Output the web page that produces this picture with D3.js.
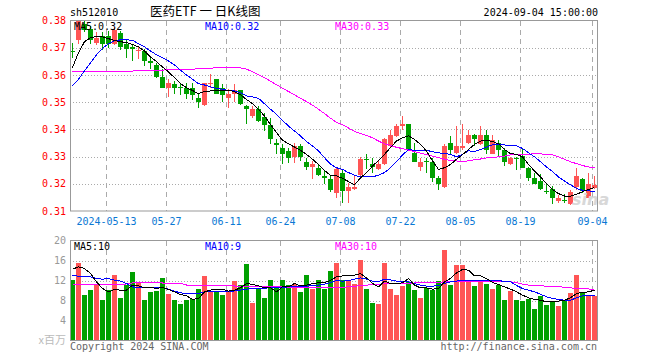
<!DOCTYPE html>
<html>
<head>
<meta charset="utf-8">
<script src="https://cdn.jsdelivr.net/npm/d3@7"></script>
<style>
  body { margin: 0; background: #fff; }
  svg { display: block; }
  text { font-family: "DejaVu Sans Mono", monospace; font-size: 10px; }
</style>
</head>
<body>
<div id="chart"></div>
<script>
// trading days shown on the chart
var dates = ["2024-04-30",
  "2024-05-06","2024-05-07","2024-05-08","2024-05-09","2024-05-10",
  "2024-05-13","2024-05-14","2024-05-15","2024-05-16","2024-05-17",
  "2024-05-20","2024-05-21","2024-05-22","2024-05-23","2024-05-24",
  "2024-05-27","2024-05-28","2024-05-29","2024-05-30","2024-05-31",
  "2024-06-03","2024-06-04","2024-06-05","2024-06-06","2024-06-07",
  "2024-06-11","2024-06-12","2024-06-13","2024-06-14",
  "2024-06-17","2024-06-18","2024-06-19","2024-06-20","2024-06-21",
  "2024-06-24","2024-06-25","2024-06-26","2024-06-27","2024-06-28",
  "2024-07-01","2024-07-02","2024-07-03","2024-07-04","2024-07-05",
  "2024-07-08","2024-07-09","2024-07-10","2024-07-11","2024-07-12",
  "2024-07-15","2024-07-16","2024-07-17","2024-07-18","2024-07-19",
  "2024-07-22","2024-07-23","2024-07-24","2024-07-25","2024-07-26",
  "2024-07-29","2024-07-30","2024-07-31","2024-08-01","2024-08-02",
  "2024-08-05","2024-08-06","2024-08-07","2024-08-08","2024-08-09",
  "2024-08-12","2024-08-13","2024-08-14","2024-08-15","2024-08-16",
  "2024-08-19","2024-08-20","2024-08-21","2024-08-22","2024-08-23",
  "2024-08-26","2024-08-27","2024-08-28","2024-08-29","2024-08-30",
  "2024-09-02","2024-09-03","2024-09-04"];

var open = [0.3687,0.3729,0.3786,0.3769,0.3717,0.3743,0.3743,0.3715,0.3755,0.3715,
  0.3702,0.3690,0.3688,0.3653,0.3636,0.3593,0.3553,0.3565,0.3554,0.3553,
  0.3553,0.3514,0.3489,0.3567,0.3584,0.3553,0.3514,0.3531,0.3543,0.3486,
  0.3449,0.3473,0.3446,0.3416,0.3351,0.3333,0.3320,0.3300,0.3339,0.3281,
  0.3263,0.3259,0.3229,0.3219,0.3167,0.3241,0.3174,0.3180,0.3232,0.3291,
  0.3271,0.3253,0.3271,0.3339,0.3376,0.3412,0.3420,0.3314,0.3262,0.3282,
  0.3281,0.3220,0.3188,0.3351,0.3314,0.3332,0.3351,0.3381,0.3345,0.3381,
  0.3311,0.3351,0.3324,0.3271,0.3294,0.3302,0.3259,0.3220,0.3210,0.3172,
  0.3180,0.3136,0.3140,0.3127,0.3188,0.3219,0.3149,0.3186];
var high = [0.3716,0.3800,0.3800,0.3778,0.3756,0.3756,0.3760,0.3776,0.3760,0.3727,
  0.3715,0.3703,0.3695,0.3666,0.3645,0.3623,0.3584,0.3578,0.3572,0.3572,
  0.3572,0.3529,0.3572,0.3605,0.3586,0.3566,0.3547,0.3566,0.3545,0.3489,
  0.3486,0.3486,0.3461,0.3443,0.3363,0.3347,0.3333,0.3351,0.3345,0.3296,
  0.3284,0.3271,0.3247,0.3229,0.3259,0.3253,0.3204,0.3229,0.3299,0.3311,
  0.3293,0.3286,0.3367,0.3398,0.3421,0.3449,0.3421,0.3351,0.3296,0.3296,
  0.3293,0.3229,0.3345,0.3376,0.3413,0.3420,0.3399,0.3383,0.3412,0.3399,
  0.3381,0.3360,0.3333,0.3299,0.3299,0.3326,0.3261,0.3241,0.3235,0.3200,
  0.3192,0.3157,0.3161,0.3176,0.3259,0.3222,0.3241,0.3229];
var low = [0.3662,0.3713,0.3756,0.3713,0.3710,0.3690,0.3700,0.3710,0.3690,0.3664,
  0.3651,0.3657,0.3633,0.3620,0.3588,0.3551,0.3520,0.3529,0.3527,0.3510,
  0.3509,0.3480,0.3486,0.3553,0.3529,0.3499,0.3480,0.3499,0.3489,0.3419,
  0.3443,0.3428,0.3394,0.3347,0.3308,0.3271,0.3278,0.3278,0.3284,0.3249,
  0.3216,0.3229,0.3200,0.3171,0.3149,0.3131,0.3128,0.3176,0.3230,0.3256,
  0.3238,0.3250,0.3268,0.3335,0.3372,0.3399,0.3322,0.3280,0.3247,0.3238,
  0.3207,0.3176,0.3183,0.3307,0.3310,0.3325,0.3348,0.3339,0.3343,0.3308,
  0.3308,0.3299,0.3266,0.3269,0.3249,0.3257,0.3212,0.3198,0.3178,0.3161,
  0.3127,0.3131,0.3131,0.3123,0.3178,0.3167,0.3149,0.3180];
var close = [0.3685,0.3798,0.3764,0.3727,0.3736,0.3715,0.3715,0.3764,0.3702,0.3694,
  0.3694,0.3693,0.3653,0.3645,0.3593,0.3553,0.3572,0.3553,0.3553,0.3531,
  0.3526,0.3502,0.3571,0.3570,0.3531,0.3526,0.3531,0.3543,0.3492,0.3476,
  0.3473,0.3430,0.3416,0.3363,0.3342,0.3311,0.3293,0.3339,0.3299,0.3262,
  0.3271,0.3232,0.3220,0.3176,0.3253,0.3174,0.3188,0.3188,0.3292,0.3290,
  0.3262,0.3271,0.3363,0.3381,0.3414,0.3418,0.3326,0.3281,0.3281,0.3281,
  0.3220,0.3200,0.3339,0.3324,0.3339,0.3339,0.3381,0.3363,0.3381,0.3323,
  0.3360,0.3324,0.3281,0.3293,0.3293,0.3259,0.3220,0.3200,0.3180,0.3171,
  0.3149,0.3149,0.3139,0.3171,0.3229,0.3174,0.3200,0.3196];

var ma5 = [0.3627,0.3682,0.3722,0.3737,0.3741,0.3740,0.3733,0.3727,0.3722,0.3719,
  0.3712,0.3703,0.3688,0.3666,0.3649,0.3629,0.3611,0.3590,0.3568,0.3553,
  0.3543,0.3531,0.3540,0.3541,0.3543,0.3543,0.3543,0.3539,0.3527,0.3510,
  0.3494,0.3474,0.3449,0.3418,0.3388,0.3360,0.3347,0.3335,0.3323,0.3308,
  0.3290,0.3271,0.3249,0.3231,0.3229,0.3220,0.3208,0.3196,0.3222,0.3241,
  0.3265,0.3286,0.3308,0.3333,0.3357,0.3369,0.3376,0.3363,0.3345,0.3320,
  0.3284,0.3253,0.3259,0.3271,0.3290,0.3307,0.3326,0.3345,0.3357,0.3360,
  0.3355,0.3347,0.3326,0.3311,0.3308,0.3299,0.3271,0.3247,0.3225,0.3200,
  0.3179,0.3164,0.3155,0.3155,0.3161,0.3171,0.3179,0.3186];
var ma10 = [0.3560,0.3584,0.3615,0.3645,0.3674,0.3698,0.3715,0.3725,0.3729,0.3729,
  0.3727,0.3715,0.3703,0.3688,0.3674,0.3664,0.3651,0.3637,0.3617,0.3600,
  0.3584,0.3568,0.3563,0.3556,0.3551,0.3547,0.3543,0.3541,0.3535,0.3523,
  0.3519,0.3514,0.3494,0.3474,0.3455,0.3433,0.3412,0.3394,0.3376,0.3355,
  0.3339,0.3321,0.3296,0.3272,0.3259,0.3253,0.3241,0.3232,0.3225,0.3225,
  0.3225,0.3232,0.3241,0.3259,0.3281,0.3306,0.3326,0.3323,0.3323,0.3323,
  0.3318,0.3314,0.3311,0.3308,0.3299,0.3308,0.3321,0.3318,0.3326,0.3335,
  0.3343,0.3345,0.3343,0.3339,0.3339,0.3330,0.3314,0.3299,0.3281,0.3262,
  0.3245,0.3225,0.3210,0.3196,0.3183,0.3176,0.3174,0.3171];
var ma30 = [0.3612,0.3611,0.3611,0.3611,0.3611,0.3611,0.3612,0.3614,0.3614,0.3614,
  0.3614,0.3617,0.3617,0.3617,0.3617,0.3617,0.3621,0.3621,0.3621,0.3621,
  0.3621,0.3623,0.3623,0.3625,0.3626,0.3629,0.3629,0.3629,0.3626,0.3621,
  0.3612,0.3601,0.3590,0.3577,0.3564,0.3551,0.3539,0.3527,0.3514,0.3502,
  0.3489,0.3474,0.3458,0.3441,0.3426,0.3417,0.3405,0.3393,0.3384,0.3378,
  0.3369,0.3357,0.3347,0.3341,0.3334,0.3329,0.3324,0.3318,0.3313,0.3307,
  0.3302,0.3296,0.3290,0.3285,0.3284,0.3281,0.3285,0.3288,0.3291,0.3295,
  0.3296,0.3299,0.3302,0.3306,0.3306,0.3306,0.3308,0.3311,0.3310,0.3308,
  0.3306,0.3299,0.3290,0.3281,0.3274,0.3267,0.3262,0.3259];

// volume in millions
var volume = [12.07,15.5,9.07,10.07,11.07,8.2,10.1,13.07,8.6,11.07,
  13.67,11.73,8.2,9.73,9.93,12.6,9.27,8.2,7.27,8.2,
  8.4,10.4,12.87,9.73,9.73,9.07,9.73,11.87,11.2,15.27,
  7.53,10.4,8.6,12.07,10.73,12.2,11.07,11.4,9.73,13.07,
  10.4,12.2,10.4,13.87,15.6,12.07,12.07,11.4,16.07,10.4,
  7.6,7.4,15.6,10.4,9.07,10.93,11.73,10.07,8.53,10.53,
  10.07,11.87,18.2,11.07,15.07,15.07,11.87,10.87,11.87,11.4,
  10.4,11.07,8.07,9.93,8.07,7.87,8.4,6.27,8.93,7.2,
  8.0,7.0,8.0,9.6,13.07,9.6,9.2,8.93];
var volMa5 = [14.27,14.73,14.4,13.4,11.73,10.4,9.73,10.2,10.07,10.07,
  11.07,10.93,10.53,10.6,10.4,10.6,10.2,9.73,9.2,8.93,
  8.2,8.4,9.73,10.07,10.27,10.27,9.87,10.07,10.53,11.4,
  11.2,10.93,10.53,10.53,9.73,10.73,10.73,11.4,10.93,11.07,
  11.4,11.53,11.6,12.0,12.73,12.93,12.93,13.07,13.4,12.53,
  11.4,10.73,11.87,11.4,11.4,11.53,12.4,11.07,10.53,10.53,
  10.27,10.4,11.73,12.4,13.53,14.2,14.07,12.93,12.93,12.4,
  11.6,11.2,10.73,10.27,9.73,9.07,8.53,8.2,8.07,7.73,
  7.87,7.87,8.07,8.53,9.4,9.6,9.73,10.07];
var volMa10 = [13.0,12.87,12.87,12.73,12.4,12.27,12.4,12.07,11.87,11.4,
  10.73,10.53,10.53,10.53,10.53,10.6,10.27,9.87,9.53,9.4,
  9.4,9.4,9.73,9.87,9.87,9.87,9.73,9.93,10.07,10.27,
  10.4,10.4,10.47,10.53,10.53,10.6,10.73,10.73,10.73,10.87,
  11.0,11.07,11.27,11.6,12.0,11.87,12.0,12.27,12.53,12.27,
  11.87,11.73,12.27,12.13,11.87,11.73,11.73,11.4,11.07,10.87,
  10.87,11.0,11.4,11.73,11.87,12.07,12.07,12.07,12.07,12.07,
  12.07,12.07,11.73,11.73,11.0,10.4,10.07,9.73,9.27,8.73,
  8.4,8.2,8.07,8.07,8.53,8.93,8.93,9.07];
var volMa30 = [11.2,11.2,11.2,11.15,11.15,11.15,11.2,11.2,11.25,11.3,
  11.5,11.55,11.55,11.55,11.55,11.5,11.5,11.5,11.45,11.1,
  11.1,11.05,11.05,11.0,11.0,11.0,10.95,10.9,10.9,10.85,
  10.85,10.85,10.8,10.8,10.75,10.7,10.7,10.7,10.65,10.6,
  10.6,10.55,10.55,10.55,10.6,10.65,10.73,10.87,10.93,11.07,
  11.2,11.27,11.33,11.4,11.4,11.43,11.47,11.5,11.53,11.53,
  11.57,11.6,11.73,11.8,11.87,11.87,11.87,11.87,11.87,11.87,
  11.87,11.87,11.87,11.73,11.6,11.27,11.07,11.0,10.93,10.87,
  10.8,10.73,10.67,10.53,10.4,10.4,10.3,10.2];

var tickDates = ["2024-05-13","2024-05-27","2024-06-11","2024-06-24","2024-07-08",
  "2024-07-22","2024-08-05","2024-08-19","2024-09-04"];
var tickLabels = ["2024-05-13","05-27","06-11","06-24","07-08","07-22","08-05","08-19","09-04"];
var priceTicks = [0.31,0.32,0.33,0.34,0.35,0.36,0.37,0.38];
var volTicks = [4,8,12,16,20];

var RED = "#ff5555", GREEN = "#00a000";

var svg = d3.select("#chart").append("svg")
  .attr("width", 660).attr("height", 360);

var x = d3.scaleBand().domain(dates).range([70, 597]).paddingInner(1/6).paddingOuter(0);
var bw = x.bandwidth();
var yP = d3.scaleLinear().domain([0.31, 0.38]).range([211, 20.5]);
var yV = d3.scaleLinear().domain([0, 20]).range([340.5, 240.5]);

function cx(d) { return Math.round(x(d)) + 2.5; }

// header texts
svg.append("text").attr("x", 70).attr("y", 16).text("sh512010");
svg.append("text").attr("x", 150).attr("y", 16)
  .style("font-family", "'Noto Sans CJK SC', sans-serif").style("font-size", "12.5px")
  .text("医药ETF 一 日K线图");
svg.append("text").attr("x", 598).attr("y", 16).attr("text-anchor", "end").text("2024-09-04 15:00:00");

// ---- grids ----
function grid(g, yScale, ticks, y0, y1) {
  g.selectAll("line.h").data(ticks).enter().append("line")
    .attr("x1", 70).attr("x2", 598)
    .attr("y1", function(d) { return Math.round(yScale(d)) + 0.5; })
    .attr("y2", function(d) { return Math.round(yScale(d)) + 0.5; })
    .attr("stroke", "#aaa").attr("stroke-dasharray", "1,2");
  g.selectAll("line.v").data(tickDates).enter().append("line")
    .attr("x1", function(d) { return Math.round(x(d)) + 0.5; })
    .attr("x2", function(d) { return Math.round(x(d)) + 0.5; })
    .attr("y1", y0).attr("y2", y1)
    .attr("stroke", "#aaa").attr("stroke-dasharray", "5,4");
}
grid(svg.append("g"), yP, [0.32,0.33,0.34,0.35,0.36,0.37], 21, 211);
grid(svg.append("g"), yV, [8,12,16], 241, 340);

// ---- candles ----
var idx = d3.range(dates.length);
var cg = svg.append("g").attr("shape-rendering", "crispEdges");
idx.forEach(function(i) {
  var col = close[i] >= open[i] ? RED : GREEN;
  var xl = Math.round(x(dates[i]));
  var yh = Math.round(yP(high[i])), yl = Math.round(yP(low[i]));
  cg.append("rect").attr("x", xl + 2).attr("width", 1)
    .attr("y", yh).attr("height", Math.max(1, yl - yh)).attr("fill", col);
  var yt = Math.round(yP(Math.max(open[i], close[i])));
  var yb = Math.round(yP(Math.min(open[i], close[i])));
  cg.append("rect").attr("x", xl).attr("width", bw)
    .attr("y", yt).attr("height", Math.max(1, yb - yt)).attr("fill", col);
});

// ---- volume bars ----
svg.append("g").attr("shape-rendering", "crispEdges")
  .selectAll("rect").data(idx).enter().append("rect")
  .attr("x", function(i) { return Math.round(x(dates[i])); })
  .attr("width", bw)
  .attr("y", function(i) { return Math.round(yV(volume[i])); })
  .attr("height", function(i) { return 340 - Math.round(yV(volume[i])); })
  .attr("fill", function(i) { return close[i] >= open[i] ? RED : GREEN; });

// ---- moving average lines ----
function maLine(values, yScale, color) {
  var line = d3.line()
    .x(function(d, i) { return cx(dates[i]); })
    .y(function(d) { return yScale(d); });
  svg.append("path").datum(values)
    .attr("d", line).attr("fill", "none")
    .attr("stroke", color).attr("stroke-width", 1)
    .attr("shape-rendering", "crispEdges");
}
maLine(ma30, yP, "#ff00ff");
maLine(ma10, yP, "#0000ff");
maLine(ma5, yP, "#000");
maLine(volMa30, yV, "#ff00ff");
maLine(volMa10, yV, "#0000ff");
maLine(volMa5, yV, "#000");

// watermark
svg.append("text").attr("x", 572).attr("y", 205)
  .style("font-family", "'DejaVu Sans', sans-serif").style("font-size", "16px")
  .style("font-style", "italic").style("font-weight", "bold")
  .attr("fill", "#d8d8d8").text("sina");

// ---- frames ----
svg.append("rect").attr("x", 70.5).attr("y", 20.5).attr("width", 527).attr("height", 190.5)
  .attr("fill", "none").attr("stroke", "#999");
svg.append("rect").attr("x", 70.5).attr("y", 240.5).attr("width", 527).attr("height", 100)
  .attr("fill", "none").attr("stroke", "#999");

// ---- axes labels ----
var ay = svg.append("g").attr("transform", "translate(70,0)")
  .call(d3.axisLeft(yP).tickValues(priceTicks).tickFormat(d3.format(".2f")).tickSize(0).tickPadding(4));
ay.select(".domain").remove();
ay.selectAll("text").attr("fill", "#ff0000").style("font-size", "10px")
  .style("font-family", "'DejaVu Sans Mono', monospace");

var av = svg.append("g").attr("transform", "translate(70,0)")
  .call(d3.axisLeft(yV).tickValues(volTicks).tickSize(0).tickPadding(4));
av.select(".domain").remove();
av.selectAll("text").attr("fill", "#999").style("font-size", "10px")
  .style("font-family", "'DejaVu Sans Mono', monospace");
svg.append("text").attr("x", 66).attr("y", 344).attr("text-anchor", "end")
  .attr("fill", "#bbb").style("font-family", "'Noto Sans CJK SC', sans-serif")
  .style("font-size", "11px").text("x百万");

svg.append("g").selectAll("text").data(tickDates).enter().append("text")
  .attr("x", function(d) { return Math.round(x(d)) + 0.5; })
  .attr("y", 225).attr("text-anchor", "middle").attr("fill", "#0a78d4")
  .text(function(d, i) { return tickLabels[i]; });

// ---- legends ----
var fmt2 = d3.format(".2f"), fmt0 = d3.format(".0f");
var last = dates.length - 1;
var legends = [
  ["MA5:" + fmt2(ma5[last]), "#000", 74, 29.5],
  ["MA10:" + fmt2(ma10[last]), "#0000ff", 205, 29.5],
  ["MA30:" + fmt2(ma30[last]), "#ff00ff", 335, 29.5],
  ["MA5:" + fmt0(volMa5[last]), "#000", 74, 249.5],
  ["MA10:" + fmt0(volMa10[last]), "#0000ff", 205, 249.5],
  ["MA30:" + fmt0(volMa30[last]), "#ff00ff", 335, 249.5]
];
legends.forEach(function(l) {
  svg.append("text").attr("x", l[2]).attr("y", l[3]).attr("fill", l[1]).text(l[0]);
});

svg.append("text").attr("x", 70).attr("y", 350).attr("fill", "#666").text("Copyright 2024 SINA.COM");
svg.append("text").attr("x", 597).attr("y", 350).attr("text-anchor", "end").attr("fill", "#666")
  .text("http://finance.sina.com.cn");
</script>
</body>
</html>
